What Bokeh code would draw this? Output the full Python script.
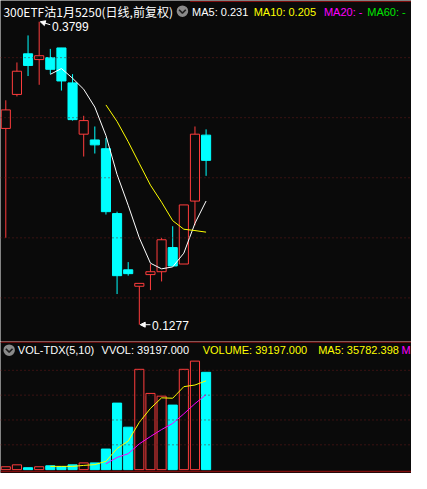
import numpy as np
import pandas as pd
from bokeh.plotting import figure
from bokeh.layouts import column
from bokeh.models import Span, Label, Arrow, NormalHead, ColumnDataSource, Range1d
from bokeh.embed import file_html
from bokeh.resources import INLINE
from bokeh.core.properties import value

# ---------------- data ----------------
title_text = "300ETF沽1月5250(日线,前复权)"
opens  = [0.2911, 0.3194, 0.3532, 0.3484, 0.3500, 0.3581, 0.3290, 0.2863, 0.2815, 0.2742,
          0.2202, 0.1734, 0.1597, 0.1694, 0.1718, 0.1919, 0.1782, 0.2306, 0.2855]
highs  = [0.3145, 0.3460, 0.3685, 0.3799, 0.3573, 0.3581, 0.3363, 0.3016, 0.2927, 0.2831,
          0.2218, 0.1798, 0.1621, 0.1782, 0.2000, 0.2097, 0.2274, 0.2927, 0.2903]
lows   = [0.2000, 0.3177, 0.3347, 0.3274, 0.3363, 0.3226, 0.2976, 0.2677, 0.2702, 0.2194,
          0.1532, 0.1685, 0.1277, 0.1565, 0.1637, 0.1766, 0.1782, 0.2105, 0.2516]
closes = [0.3065, 0.3387, 0.3435, 0.3516, 0.3403, 0.3306, 0.2984, 0.2976, 0.2774, 0.2218,
          0.1685, 0.1702, 0.1621, 0.1718, 0.1984, 0.1766, 0.2274, 0.2863, 0.2645]
volumes = [1160, 1940, 780, 1160, 1550, 1160, 1940, 2720, 2720, 8300,
           26800, 17100, 40400, 30700, 29600, 26000, 40400, 43700, 39197]
price_grid = [0.15, 0.20, 0.25, 0.30, 0.35]
volume_grid = [10000, 20000, 30000, 40000]
ma_labels = ["MA5: ", "MA10: ", "MA20: -", "MA60: -"]
vol_header = ["VOL-TDX(5,10)", "VVOL: 39197.000", "VOLUME: 39197.000", "MA5: 35782.398", "M"]

# ---------------- styling / layout ----------------
BG = "#0a0a0a"
RED = "#ff3d3d"
CYAN = "#00ffff"
GRID = "#6a1c1c"
SEP = "#800c0c"
W, H1, H2 = 411, 341, 132
REF_W, REF_H1, REF_H2 = 427, 352, 137
X0, X1 = -0.476, 36.46
PY0, PY1 = 0.11371, 0.39758
VY0, VY1 = -1552, 51604


def sx(px):
    return px * W / REF_W


def sy1(py):
    return H1 - py * H1 / REF_H1


def sy2(py):
    return H2 - (py - 352) * H2 / REF_H2


def mx(px):
    return X0 + px / REF_W * (X1 - X0)


def my(py):
    return PY1 - py / REF_H1 * (PY1 - PY0)


def vy(py):
    return VY1 - (py - 352) / REF_H2 * (VY1 - VY0)


idx = list(range(len(opens)))
up = [c >= o for o, c in zip(opens, closes)]
colors = [RED if u else CYAN for u in up]
fills = [BG if u else CYAN for u in up]

cs = pd.Series(closes)
ma5 = cs.rolling(5).mean().to_numpy()
ma10 = cs.rolling(10).mean().to_numpy()
vs = pd.Series(volumes, dtype=float)
vma5 = vs.rolling(5).mean().to_numpy()
vma10 = vs.rolling(10).mean().to_numpy()

src = ColumnDataSource(dict(
    x=idx, o=opens, h=highs, l=lows, c=closes,
    top=[max(o, c) for o, c in zip(opens, closes)],
    bottom=[min(o, c) for o, c in zip(opens, closes)],
    color=colors, fill=fills, vol=volumes,
))


def make_fig(h, y0, y1):
    f = figure(width=W, height=h, x_range=Range1d(X0, X1), y_range=Range1d(y0, y1),
               output_backend="svg", toolbar_location=None,
               x_axis_location=None, y_axis_location=None, min_border=0,
               background_fill_color=BG, border_fill_color=BG, outline_line_color=None)
    f.xgrid.visible = False
    f.ygrid.visible = False
    return f


# ---------------- main (price) panel ----------------
p = make_fig(H1, PY0, PY1)
for g in price_grid:
    p.add_layout(Span(location=g, dimension="width", line_color=GRID, line_width=1, line_dash="1 3"))
p.segment(x0=[mx(197)], y0=[my(1)], x1=[mx(427)], y1=[my(1)], line_color=SEP, line_width=1)

p.segment(x0="x", y0="h", x1="x", y1="l", line_color="color", line_width=1, source=src)
p.vbar(x="x", width=0.82, top="top", bottom="bottom", fill_color="fill",
       line_color="color", line_width=1, source=src)
p.line(idx, ma5, line_color="white", line_width=1)
p.line(idx, ma10, line_color="#ffff00", line_width=1)

# high / low annotations
ih = int(np.argmax(highs))
il = int(np.argmin(lows))
p.add_layout(Arrow(end=NormalHead(size=5, fill_color="white", line_color="white", line_width=1),
                   x_start=ih + 1.0, y_start=highs[ih] - 0.0025, x_end=ih + 0.1, y_end=highs[ih],
                   line_color="white", line_width=1))
p.text(x=[ih + 1.15], y=[highs[ih] - 0.0040], text=[f"{highs[ih]:.4f}"], text_color="white",
       text_font=value("Liberation Sans"), text_font_size="12px", text_baseline="middle")
p.add_layout(Arrow(end=NormalHead(size=5, fill_color="white", line_color="white", line_width=1),
                   x_start=il + 1.0, y_start=lows[il], x_end=il + 0.08, y_end=lows[il],
                   line_color="white", line_width=1))
p.text(x=[il + 1.15], y=[lows[il] - 0.0006], text=[f"{lows[il]:.4f}"], text_color="white",
       text_font=value("Liberation Sans"), text_font_size="12px", text_baseline="middle")

# header
p.add_layout(Label(x=sx(3), y=sy1(11), x_units="screen", y_units="screen", text=title_text,
                   text_color="white", text_font="Noto Sans CJK SC", text_font_size="12px",
                   text_baseline="middle"))
p.scatter(x=[mx(189)], y=[my(11)], marker="circle", size=11.5, fill_color="#8a8a8a", line_color=None)
p.line(x=[mx(185.5), mx(189), mx(192.5)], y=[my(9.5), my(13), my(9.5)], line_color="#1e1e1e", line_width=1.6)
ma_texts = [ma_labels[0] + f"{ma5[-1]:.3f}", ma_labels[1] + f"{ma10[-1]:.3f}", ma_labels[2], ma_labels[3]]
ma_cols = ["white", "#ffff00", "#ff00ff", "#00e600"]
ma_x = [199, 263, 336, 381]
for t, c, x in zip(ma_texts, ma_cols, ma_x):
    p.add_layout(Label(x=sx(x), y=sy1(12), x_units="screen", y_units="screen", text=t,
                       text_color=c, text_font="Liberation Sans", text_font_size="11px",
                       text_baseline="middle"))

# ---------------- volume panel ----------------
pv = make_fig(H2, VY0, VY1)
for g in volume_grid:
    pv.add_layout(Span(location=g, dimension="width", line_color=GRID, line_width=1, line_dash="1 3"))
pv.add_layout(Span(location=vy(352.5), dimension="width", line_color=SEP, line_width=1.5))
pv.add_layout(Span(location=vy(487), dimension="width", line_color=SEP, line_width=1.5))
pv.vbar(x="x", width=0.82, top="vol", bottom=0, fill_color="fill", line_color="color",
        line_width=1, source=src)
pv.line(idx, vma5, line_color="#ffff00", line_width=1)
pv.line(idx, vma10, line_color="#ff00ff", line_width=1)

pv.scatter(x=[mx(9)], y=[vy(361)], marker="circle", size=11.5, fill_color="#8a8a8a", line_color=None)
pv.line(x=[mx(5.5), mx(9), mx(12.5)], y=[vy(359.5), vy(363), vy(359.5)], line_color="#1e1e1e", line_width=1.6)
vh_cols = ["white", "white", "#ffff00", "#ffff00", "#ff00ff"]
vh_x = [18, 105, 210, 330, 416.5]
for t, c, x in zip(vol_header, vh_cols, vh_x):
    pv.add_layout(Label(x=sx(x), y=sy2(361), x_units="screen", y_units="screen", text=t,
                        text_color=c, text_font="Liberation Sans", text_font_size="11px",
                        text_baseline="middle"))

layout = column(p, pv, spacing=0)
open("out.html", "w").write(file_html(layout, INLINE))
